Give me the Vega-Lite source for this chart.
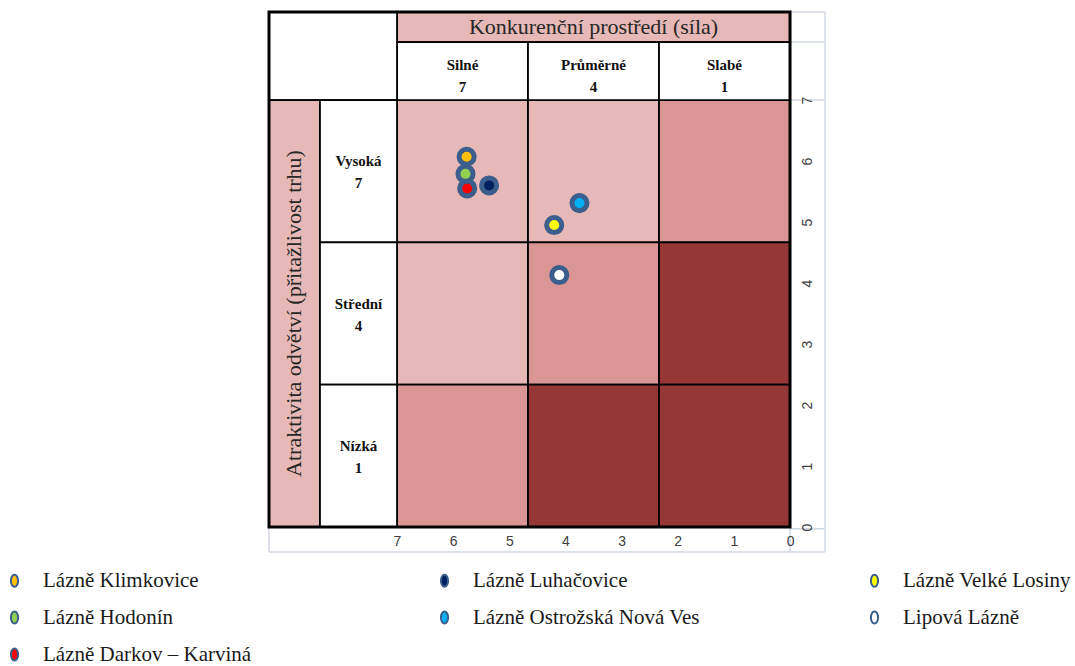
{
  "$schema": "https://vega.github.io/schema/vega-lite/v6.json",
  "width": 556,
  "height": 540,
  "autosize": {"type": "none"},
  "padding": {"left": 269, "top": 12, "right": 250, "bottom": 114},
  "background": "white",
  "config": {"view": {"stroke": null}},
  "datasets": {
    "table": [
      {"x": 7, "x2": 4.6667, "y": 4.6667, "y2": 7, "shade": "light"},
      {"x": 4.6667, "x2": 2.3333, "y": 4.6667, "y2": 7, "shade": "light"},
      {"x": 2.3333, "x2": 0, "y": 4.6667, "y2": 7, "shade": "medium"},
      {"x": 7, "x2": 4.6667, "y": 2.3333, "y2": 4.6667, "shade": "light"},
      {"x": 4.6667, "x2": 2.3333, "y": 2.3333, "y2": 4.6667, "shade": "medium"},
      {"x": 2.3333, "x2": 0, "y": 2.3333, "y2": 4.6667, "shade": "dark"},
      {"x": 7, "x2": 4.6667, "y": 0, "y2": 2.3333, "shade": "medium"},
      {"x": 4.6667, "x2": 2.3333, "y": 0, "y2": 2.3333, "shade": "dark"},
      {"x": 2.3333, "x2": 0, "y": 0, "y2": 2.3333, "shade": "dark"},
      {"x": 7, "x2": 0, "y": 7.951, "y2": 8.443, "shade": "light"},
      {"x": 7, "x2": 4.6667, "y": 7, "y2": 7.951, "shade": "white"},
      {"x": 4.6667, "x2": 2.3333, "y": 7, "y2": 7.951, "shade": "white"},
      {"x": 2.3333, "x2": 0, "y": 7, "y2": 7.951, "shade": "white"},
      {"x": 9.28, "x2": 7, "y": 7, "y2": 8.443, "shade": "white"},
      {"x": 9.28, "x2": 8.372, "y": 0, "y2": 7, "shade": "light"},
      {"x": 8.372, "x2": 7, "y": 4.6667, "y2": 7, "shade": "white"},
      {"x": 8.372, "x2": 7, "y": 2.3333, "y2": 4.6667, "shade": "white"},
      {"x": 8.372, "x2": 7, "y": 0, "y2": 2.3333, "shade": "white"}
    ],
    "frame": [
      {"x": 9.28, "x2": 0, "y": 0, "y2": 8.443}
    ],
    "sheet": [
      {"x": -0.623, "x2": -0.623, "y": -0.41, "y2": 8.443},
      {"x": 0, "x2": -0.623, "y": 8.443, "y2": 8.443},
      {"x": 0, "x2": -0.623, "y": 7.951, "y2": 7.951},
      {"x": 0, "x2": -0.623, "y": 7, "y2": 7},
      {"x": 0, "x2": -0.623, "y": -0.03, "y2": -0.03},
      {"x": 9.28, "x2": -0.623, "y": -0.41, "y2": -0.41},
      {"x": 9.28, "x2": 9.28, "y": 0, "y2": -0.41},
      {"x": 0, "x2": 0, "y": 0, "y2": -0.41}
    ],
    "title": [
      {"x": 3.5, "y": 8.197, "text": "Konkurenční prostředí (síla)"}
    ],
    "vtitle": [
      {"x": 8.826, "y": 3.5, "text": "Atraktivita odvětví (přitažlivost trhu)"}
    ],
    "heads": [
      {"x": 5.8333, "y": 7.41, "text": "Silné\n7"},
      {"x": 3.5, "y": 7.41, "text": "Průměrné\n4"},
      {"x": 1.1667, "y": 7.41, "text": "Slabé\n1"},
      {"x": 7.686, "y": 5.8333, "text": "Vysoká\n7"},
      {"x": 7.686, "y": 3.5, "text": "Střední\n4"},
      {"x": 7.686, "y": 1.1667, "text": "Nízká\n1"}
    ],
    "spas": [
      {"name": "Lázně Klimkovice", "sila": 5.76, "atraktivita": 6.07},
      {"name": "Lázně Darkov – Karviná", "sila": 5.75, "atraktivita": 5.55},
      {"name": "Lázně Luhačovice", "sila": 5.36, "atraktivita": 5.6},
      {"name": "Lázně Ostrožská Nová Ves", "sila": 3.75, "atraktivita": 5.31},
      {"name": "Lázně Velké Losiny", "sila": 4.2, "atraktivita": 4.95},
      {"name": "Lipová Lázně", "sila": 4.11, "atraktivita": 4.13},
      {"name": "Lázně Hodonín", "sila": 5.78, "atraktivita": 5.79}
    ]
  },
  "encoding": {
    "x": {
      "field": "x", "type": "quantitative",
      "scale": {"domain": [9.28, -0.623], "nice": false, "zero": false},
      "axis": {"values": [0, 1, 2, 3, 4, 5, 6, 7], "offset": -25, "title": null, "domain": false, "ticks": false, "grid": false, "labelFont": "Liberation Sans", "labelFontSize": 14, "labelColor": "#404040", "labelPadding": 7, "zindex": 1}
    },
    "y": {
      "field": "y", "type": "quantitative",
      "scale": {"domain": [-0.41, 8.443], "nice": false, "zero": false},
      "axis": {"orient": "right", "values": [0, 1, 2, 3, 4, 5, 6, 7], "offset": -35, "title": null, "domain": false, "ticks": false, "grid": false, "labelAngle": -90, "labelFont": "Liberation Sans", "labelFontSize": 14, "labelColor": "#404040", "labelPadding": 10, "zindex": 1}
    }
  },
  "layer": [
    {
      "data": {"name": "sheet"},
      "mark": {"type": "rule", "stroke": "#D0D7E5", "strokeWidth": 1.5},
      "encoding": {"x2": {"field": "x2"}, "y2": {"field": "y2"}}
    },
    {
      "data": {"name": "table"},
      "mark": {"type": "rect", "stroke": "black", "strokeWidth": 1.75},
      "encoding": {
        "x2": {"field": "x2"},
        "y2": {"field": "y2"},
        "fill": {
          "field": "shade", "type": "nominal", "legend": null,
          "scale": {"domain": ["light", "medium", "dark", "white"], "range": ["#E6B8B7", "#DA9694", "#953735", "#FFFFFF"]}
        }
      }
    },
    {
      "data": {"name": "frame"},
      "mark": {"type": "rect", "fill": null, "stroke": "black", "strokeWidth": 3},
      "encoding": {"x2": {"field": "x2"}, "y2": {"field": "y2"}}
    },
    {
      "data": {"name": "title"},
      "mark": {"type": "text", "font": "Liberation Serif", "fontSize": 22, "color": "#262626"},
      "encoding": {"text": {"field": "text"}}
    },
    {
      "data": {"name": "vtitle"},
      "mark": {"type": "text", "font": "Liberation Serif", "fontSize": 22, "color": "#262626", "angle": 270},
      "encoding": {"text": {"field": "text"}}
    },
    {
      "data": {"name": "heads"},
      "mark": {"type": "text", "font": "Liberation Serif", "fontSize": 15, "fontWeight": "bold", "color": "#111111", "lineBreak": "\n", "lineHeight": 22, "dy": -10},
      "encoding": {"text": {"field": "text"}}
    },
    {
      "data": {"name": "spas"},
      "mark": {"type": "circle", "size": 227, "stroke": "#3B5E8C", "strokeWidth": 5, "opacity": 1},
      "encoding": {
        "x": {"field": "sila", "type": "quantitative"},
        "y": {"field": "atraktivita", "type": "quantitative"},
        "fill": {
          "field": "name", "type": "nominal",
          "scale": {
            "domain": ["Lázně Klimkovice", "Lázně Luhačovice", "Lázně Velké Losiny", "Lázně Hodonín", "Lázně Ostrožská Nová Ves", "Lipová Lázně", "Lázně Darkov – Karviná"],
            "range": ["#FFC000", "#002060", "#FFFF00", "#92D050", "#00B0F0", "#FFFFFF", "#FF0000"]
          },
          "legend": {
            "orient": "none", "direction": "horizontal", "legendX": -265, "legendY": 558, "columns": 3, "gridAlign": "all",
            "columnPadding": 164, "rowPadding": 15, "padding": 0, "title": null,
            "labelFont": "Liberation Serif", "labelFontSize": 21, "labelColor": "#1A1A1A", "labelLimit": 400, "labelOffset": 18,
            "symbolType": "M0,-1A0.6,1,0,1,1,0,1A0.6,1,0,1,1,0,-1Z", "symbolSize": 144,
            "symbolStrokeColor": "#3B5E8C", "symbolStrokeWidth": 2, "symbolOpacity": 1
          }
        }
      }
    }
  ],
  "resolve": {"scale": {"fill": "independent"}}
}
